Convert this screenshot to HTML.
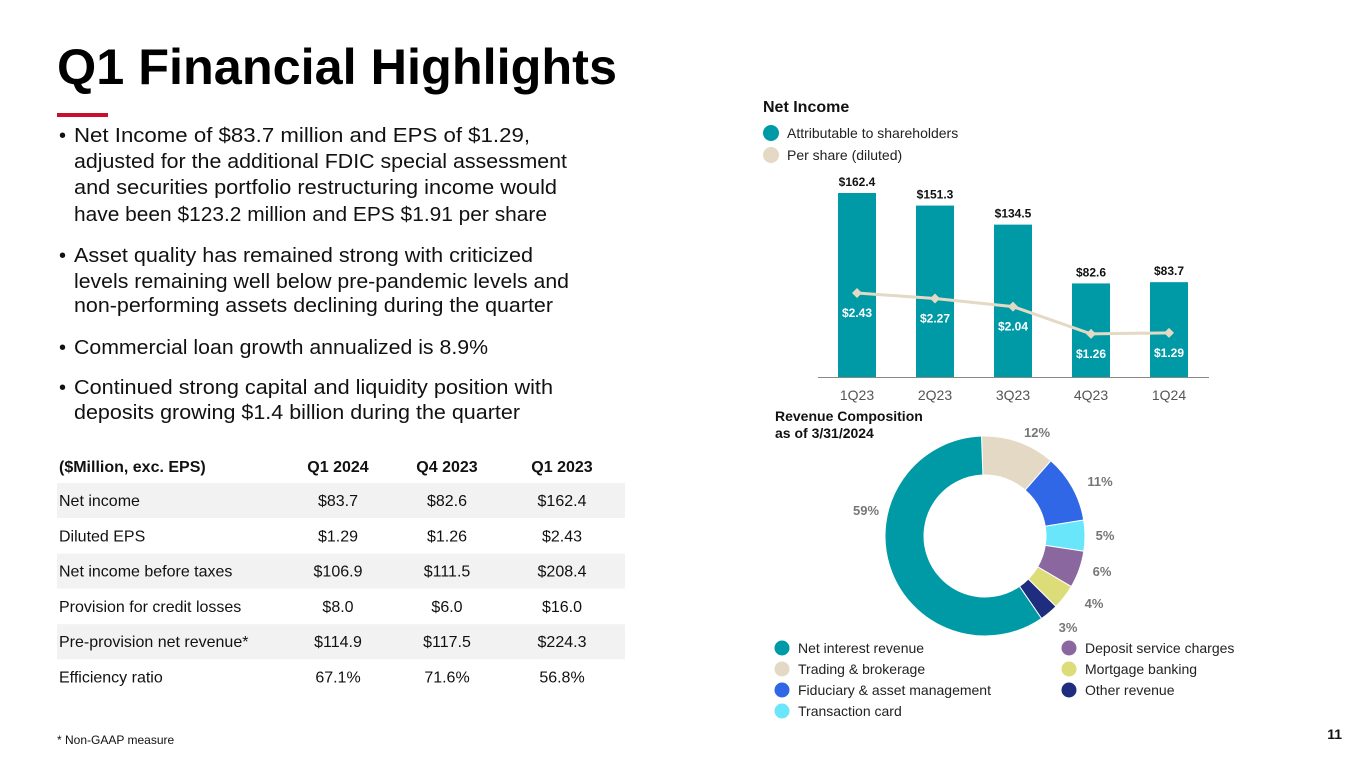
<!DOCTYPE html>
<html><head><meta charset="utf-8"><style>
html,body{margin:0;padding:0;background:#fff;}
svg{display:block;font-family:"Liberation Sans",Arial,sans-serif;}
</style></head><body>
<svg id="s" width="1365" height="769" viewBox="0 0 1365 769" xmlns="http://www.w3.org/2000/svg">
<text x="57" y="84" font-size="50" font-weight="bold" fill="#000" textLength="560" lengthAdjust="spacingAndGlyphs">Q1 Financial Highlights</text>
<rect x="57" y="113" width="51" height="4" fill="#c8102e"/>
<g font-size="20" fill="#111">
<text x="59" y="142">•</text>
<text x="74" y="142" textLength="456" lengthAdjust="spacingAndGlyphs">Net Income of $83.7 million and EPS of $1.29,</text>
<text x="74" y="168" textLength="493" lengthAdjust="spacingAndGlyphs">adjusted for the additional FDIC special assessment</text>
<text x="74" y="194" textLength="483" lengthAdjust="spacingAndGlyphs">and securities portfolio restructuring income would</text>
<text x="74" y="221" textLength="473" lengthAdjust="spacingAndGlyphs">have been $123.2 million and EPS $1.91 per share</text>
<text x="59" y="262">•</text>
<text x="74" y="262" textLength="459" lengthAdjust="spacingAndGlyphs">Asset quality has remained strong with criticized</text>
<text x="74" y="288" textLength="495" lengthAdjust="spacingAndGlyphs">levels remaining well below pre-pandemic levels and</text>
<text x="74" y="312" textLength="479" lengthAdjust="spacingAndGlyphs">non-performing assets declining during the quarter</text>
<text x="59" y="354">•</text>
<text x="74" y="354" textLength="414" lengthAdjust="spacingAndGlyphs">Commercial loan growth annualized is 8.9%</text>
<text x="59" y="394">•</text>
<text x="74" y="394" textLength="479" lengthAdjust="spacingAndGlyphs">Continued strong capital and liquidity position with</text>
<text x="74" y="419" textLength="446" lengthAdjust="spacingAndGlyphs">deposits growing $1.4 billion during the quarter</text>
</g>
<g id="table" font-size="16" fill="#111"></g>
<text x="57" y="744" font-size="12" fill="#111">*  Non-GAAP measure</text>
<text x="1342" y="739" font-size="14" font-weight="bold" fill="#111" text-anchor="end">11</text>

<text x="763" y="112" font-size="16" font-weight="bold" fill="#111">Net Income</text>
<circle cx="771" cy="133" r="8" fill="#009aa6"/>
<text x="787" y="138" font-size="14" fill="#222">Attributable to shareholders</text>
<circle cx="771" cy="155" r="8" fill="#e3d9c4"/>
<text x="787" y="160" font-size="14" fill="#222">Per share (diluted)</text>
<g id="bars"></g>

<text x="775" y="421" font-size="14" font-weight="bold" fill="#111">Revenue Composition</text>
<text x="775" y="438" font-size="14" font-weight="bold" fill="#111">as of 3/31/2024</text>
<g id="donut"></g>
<g id="dleg"></g>
</svg>
<script>
const NS="http://www.w3.org/2000/svg";
function mk(tag,attrs,parent,txt){const e=document.createElementNS(NS,tag);for(const k in attrs)e.setAttribute(k,attrs[k]);if(txt!==undefined)e.textContent=txt;parent.appendChild(e);return e;}

// table
const tableHeaders=["($Million, exc. EPS)","Q1 2024","Q4 2023","Q1 2023"];
const tableLabels=["Net income","Diluted EPS","Net income before taxes","Provision for credit losses","Pre-provision net revenue*","Efficiency ratio"];
const tableQ12024=["$83.7","$1.29","$106.9","$8.0","$114.9","67.1%"];
const tableQ42023=["$82.6","$1.26","$111.5","$6.0","$117.5","71.6%"];
const tableQ12023=["$162.4","$2.43","$208.4","$16.0","$224.3","56.8%"];
const T=document.getElementById('table');
const colX=[59,338,447,562];
tableHeaders.forEach((h,i)=>{const t=mk('text',{x:colX[i],y:472,'font-weight':'bold','text-anchor':i?'middle':'start'},T,h);

});
tableLabels.forEach((l,r)=>{const y0=483+r*35.3;
 if(r%2===0){const bg=mk('rect',{x:57,y:y0,width:568,height:35,fill:'#f2f2f2'},T);
 
 }
 const vals=[l,tableQ12024[r],tableQ42023[r],tableQ12023[r]];
 vals.forEach((v,i)=>{const t=mk('text',{x:colX[i],y:y0+23,'text-anchor':i?'middle':'start'},T,v);
 
 });
});

// bar chart
const quarters=["1Q23","2Q23","3Q23","4Q23","1Q24"];
const netIncome=[162.4,151.3,134.5,82.6,83.7];
const eps=[2.43,2.27,2.04,1.26,1.29];
const B=document.getElementById('bars');
const base=377;
const xc=i=>857+i*78;
const yBar=v=>base-v*1.133;
const yEps=v=>378-v*35;
quarters.forEach((q,i)=>{
 const r=mk('rect',{x:xc(i)-19,y:yBar(netIncome[i]),width:38,height:base-yBar(netIncome[i]),fill:'#009aa6'},B);
 
 
 const l=mk('text',{x:xc(i),y:yBar(netIncome[i])-7,'font-size':12,'font-weight':'bold','text-anchor':'middle',fill:'#111'},B,'$'+netIncome[i].toFixed(1));
 
 
 const a=mk('text',{x:xc(i),y:base+23,'font-size':14,'text-anchor':'middle',fill:'#555'},B,q);
 
 
});
const ax=mk('line',{x1:818,x2:1209,y1:base+0.5,y2:base+0.5,stroke:'#888','stroke-width':1},B);


const pl=mk('polyline',{points:eps.map((v,i)=>xc(i)+','+yEps(v)).join(' '),fill:'none',stroke:'#e3d9c4','stroke-width':3},B);


eps.forEach((v,i)=>{const y=yEps(v);
 const d=mk('path',{d:`M${xc(i)} ${y-5}L${xc(i)+5} ${y}L${xc(i)} ${y+5}L${xc(i)-5} ${y}Z`,fill:'#e3d9c4'},B);
 
 
 const t=mk('text',{x:xc(i),y:y+24,'font-size':12,'font-weight':'bold','text-anchor':'middle',fill:'#fff'},B,'$'+v.toFixed(2));
 
 
});

// donut
const segNames=["Trading & brokerage","Fiduciary & asset management","Transaction card","Deposit service charges","Mortgage banking","Other revenue","Net interest revenue"];
const segValues=[12,11,5,6,4,3,59];
const segColors=["#e3d9c4","#2f67e6","#6ae6fb","#8b67a0","#dcdc78","#1f2d7f","#009aa6"];
const D=document.getElementById('donut');
const cx=985,cy=536,R=100,r0=61;
const lblPos=[[1037,432],[1100,481],[1105,535],[1102,571],[1094,603],[1068,627],[866,510]];
let ang=-2*Math.PI/180;
const tot=segValues.reduce((a,b)=>a+b,0);
segValues.forEach((v,i)=>{
 const a0=ang,a1=ang+v/tot*2*Math.PI;ang=a1;
 const p=(a,rr)=>[cx+rr*Math.sin(a),cy-rr*Math.cos(a)];
 const [x0,y0]=p(a0,R),[x1,y1]=p(a1,R),[x2,y2]=p(a1,r0),[x3,y3]=p(a0,r0);
 const lg=(a1-a0)>Math.PI?1:0;
 const s=mk('path',{d:`M${x0} ${y0}A${R} ${R} 0 ${lg} 1 ${x1} ${y1}L${x2} ${y2}A${r0} ${r0} 0 ${lg} 0 ${x3} ${y3}Z`,fill:segColors[i],stroke:'#fff','stroke-width':1},D);
 
 
 const t=mk('text',{x:lblPos[i][0],y:lblPos[i][1]+5,'font-size':13,'font-weight':'bold','text-anchor':'middle',fill:'#777'},D,v+'%');
 
 
});
const L=document.getElementById('dleg');
const legOrder=[[6,782,648],[0,782,669],[1,782,690],[2,782,711],[3,1069,648],[4,1069,669],[5,1069,690]];
legOrder.forEach(([i,x,y])=>{
 const c=mk('circle',{cx:x,cy:y,r:7.5,fill:segColors[i]},L);
 
 
 const t=mk('text',{x:x+16,y:y+5,'font-size':14,fill:'#222'},L,segNames[i]);
 
 
});
</script>
</body></html>
